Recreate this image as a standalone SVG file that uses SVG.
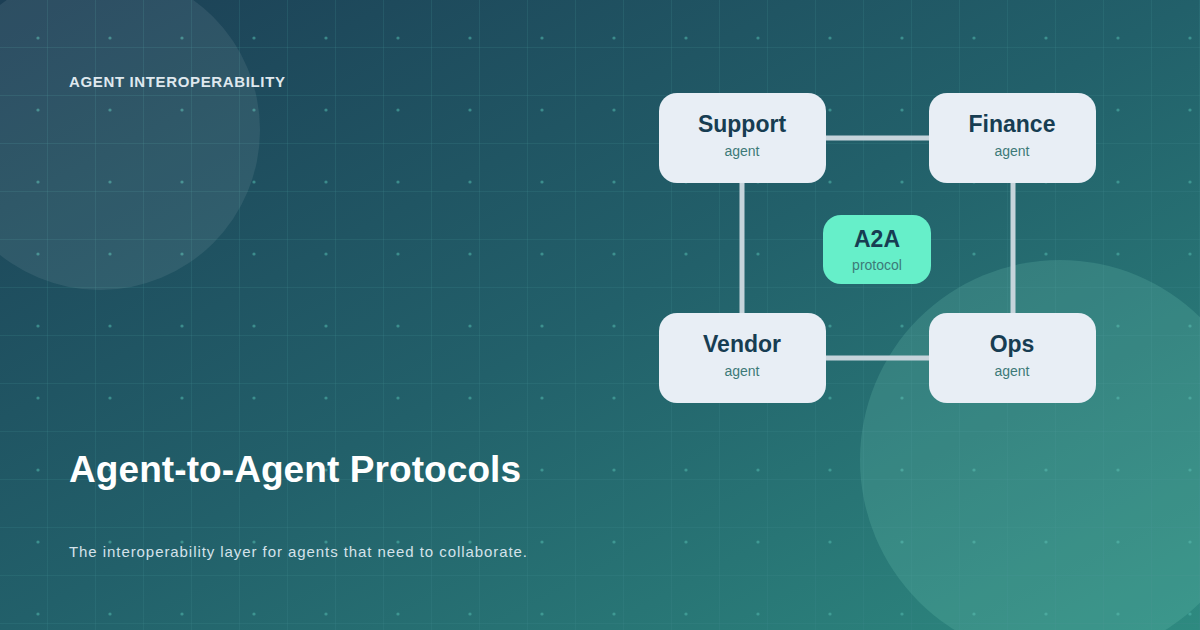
<svg xmlns="http://www.w3.org/2000/svg" width="1200" height="630" viewBox="0 0 1200 630">
<defs>
<linearGradient id="bg" x1="0" y1="0" x2="1" y2="1">
<stop offset="0" stop-color="#1c3f55"/><stop offset="0.5" stop-color="#22606a"/><stop offset="1" stop-color="#2e8a80"/>
</linearGradient>
<pattern id="grid" width="48" height="48" patternUnits="userSpaceOnUse">
<path d="M48 0V48M0 48H48" fill="none" stroke="#3f8a8c" stroke-opacity="0.45" stroke-width="1"/>
</pattern>
<pattern id="dots" x="2" y="2" width="72" height="72" patternUnits="userSpaceOnUse">
<circle cx="36" cy="36" r="1.6" fill="#4fb3a8" fill-opacity="0.6"/>
</pattern>
<style>
.node{fill:#e8eef5}
.t{font-family:"Liberation Sans",Arial,sans-serif;font-weight:bold;font-size:23px;fill:#173d52;text-anchor:middle}
.s{font-family:"Liberation Sans",Arial,sans-serif;font-size:14px;fill:#3d7a78;text-anchor:middle}
.c{stroke:#c6d4db;stroke-width:5;fill:none}
</style>
</defs>
<rect width="1200" height="630" fill="url(#bg)"/>
<rect width="1200" height="630" fill="url(#grid)"/>
<rect width="1200" height="630" fill="url(#dots)"/>
<circle cx="100" cy="130" r="160" fill="#ffffff" fill-opacity="0.08"/>
<circle cx="1060" cy="460" r="200" fill="#7fd6c0" fill-opacity="0.18"/>
<text x="69" y="87" font-family="Liberation Sans,Arial,sans-serif" font-weight="bold" font-size="15" fill="#dfe8ee" textLength="216">AGENT INTEROPERABILITY</text>
<text x="69" y="482" font-family="Liberation Sans,Arial,sans-serif" font-weight="bold" font-size="37" fill="#ffffff" textLength="452">Agent-to-Agent Protocols</text>
<text x="69" y="557" font-family="Liberation Sans,Arial,sans-serif" font-size="15" fill="#d4e2ea" textLength="458">The interoperability layer for agents that need to collaborate.</text>
<g id="connectors">
<line class="c" x1="826" y1="138" x2="929" y2="138"/>
<line class="c" x1="826" y1="358" x2="929" y2="358"/>
<line class="c" x1="742" y1="183" x2="742" y2="313"/>
<line class="c" x1="1013" y1="183" x2="1013" y2="313"/>
</g>
<g id="support"><rect class="node" x="659" y="93" width="167" height="90" rx="18"/><text class="t" x="742" y="132">Support</text><text class="s" x="742" y="156">agent</text></g>
<g id="finance"><rect class="node" x="929" y="93" width="167" height="90" rx="18"/><text class="t" x="1012" y="132">Finance</text><text class="s" x="1012" y="156">agent</text></g>
<g id="vendor"><rect class="node" x="659" y="313" width="167" height="90" rx="18"/><text class="t" x="742" y="352">Vendor</text><text class="s" x="742" y="376">agent</text></g>
<g id="ops"><rect class="node" x="929" y="313" width="167" height="90" rx="18"/><text class="t" x="1012" y="352">Ops</text><text class="s" x="1012" y="376">agent</text></g>
<g id="a2a"><rect x="823" y="215" width="108" height="69" rx="18" fill="#66efc9"/><text class="t" x="877" y="247">A2A</text><text class="s" x="877" y="270" fill="#2f6a66">protocol</text></g>
</svg>
